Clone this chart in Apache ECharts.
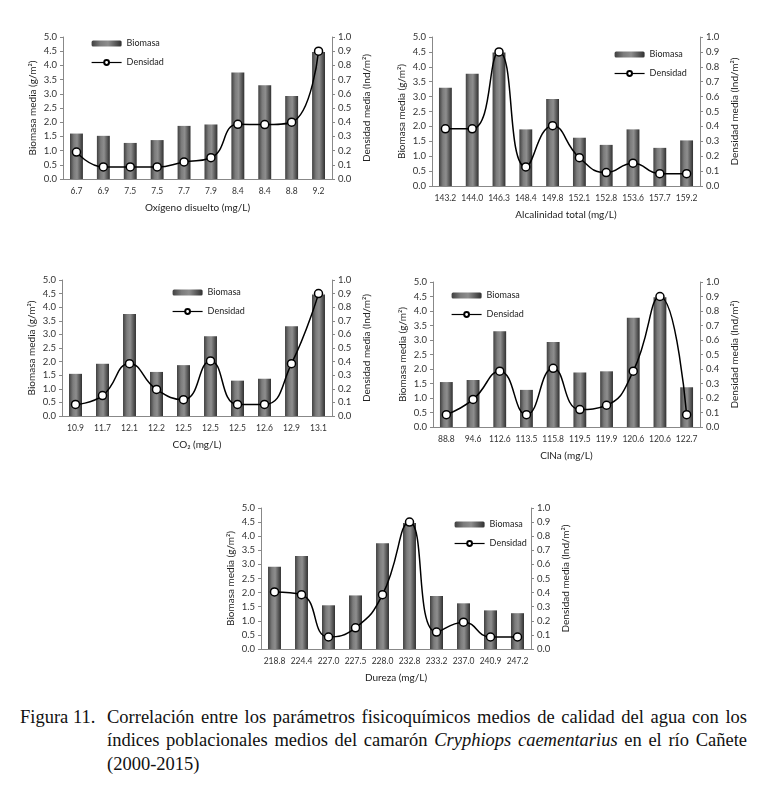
<!DOCTYPE html>
<html>
<head>
<meta charset="utf-8">
<script src="https://cdn.jsdelivr.net/npm/echarts@6/dist/echarts.min.js"></script>
<style>
html,body{margin:0;padding:0;background:#fff;}
#wrap{position:relative;width:757px;height:790px;overflow:hidden;}
#chart{position:absolute;left:0;top:0;width:757px;height:700px;}
.cap{position:absolute;font-family:"Liberation Serif","DejaVu Serif",serif;font-size:18.5px;color:#111;white-space:nowrap;}
.line{position:absolute;left:107px;width:640px;font-family:"Liberation Serif",serif;font-size:18.5px;color:#111;text-align:justify;text-align-last:justify;white-space:normal;}
</style>
</head>
<body>
<div id="wrap">
<div id="chart"></div>
<div class="cap" style="left:20px;top:707px;">Figura 11.</div>
<div class="line" style="top:707px;">Correlación entre los parámetros fisicoquímicos medios de calidad del agua con los</div>
<div class="line" style="top:730px;">índices poblacionales medios del camarón <i>Cryphiops caementarius</i> en el río Cañete</div>
<div class="cap" style="left:107px;top:754px;">(2000-2015)</div>
</div>
<script>
// ---- data ----
const oxCats = ['6.7','6.9','7.5','7.5','7.7','7.9','8.4','8.4','8.8','9.2'];
const oxBio  = [1.60,1.52,1.27,1.37,1.87,1.92,3.75,3.30,2.92,4.47];
const oxDen  = [0.19,0.085,0.085,0.085,0.12,0.15,0.385,0.383,0.40,0.90];

const alCats = ['143.2','144.0','146.3','148.4','149.8','152.1','152.8','153.6','157.7','159.2'];
const alBio  = [3.30,3.77,4.48,1.90,2.92,1.62,1.38,1.90,1.28,1.53];
const alDen  = [0.384,0.384,0.90,0.128,0.405,0.19,0.09,0.153,0.083,0.083];

const co2Cats = ['10.9','11.7','12.1','12.2','12.5','12.5','12.5','12.6','12.9','13.1'];
const co2Bio  = [1.55,1.92,3.75,1.62,1.87,2.93,1.30,1.37,3.30,4.47];
const co2Den  = [0.085,0.15,0.385,0.195,0.12,0.405,0.085,0.085,0.385,0.90];

const clCats = ['88.8','94.6','112.6','113.5','115.8','119.5','119.9','120.6','120.6','122.7'];
const clBio  = [1.55,1.62,3.30,1.28,2.93,1.88,1.92,3.77,4.47,1.37];
const clDen  = [0.085,0.19,0.385,0.085,0.405,0.12,0.15,0.385,0.90,0.085];

const duCats = ['218.8','224.4','227.0','227.5','228.0','232.8','233.2','237.0','240.9','247.2'];
const duBio  = [2.92,3.30,1.55,1.90,3.75,4.47,1.88,1.62,1.37,1.27];
const duDen  = [0.405,0.385,0.085,0.15,0.385,0.90,0.12,0.19,0.085,0.085];

const panels = [
  {cats:oxCats, bio:oxBio, den:oxDen, xname:'Oxígeno disuelto (mg/L)', grid:{left:63,top:37,width:269,height:142}, legend:{left:86,top:34}},
  {cats:alCats, bio:alBio, den:alDen, xname:'Alcalinidad total (mg/L)', grid:{left:432,top:37,width:268,height:149}, legend:{left:609,top:45}},
  {cats:co2Cats, bio:co2Bio, den:co2Den, xname:'CO₂ (mg/L)', grid:{left:62,top:280,width:270,height:136}, legend:{left:167,top:283}},
  {cats:clCats, bio:clBio, den:clDen, xname:'ClNa (mg/L)', grid:{left:433,top:282,width:267,height:145}, legend:{left:446,top:286}},
  {cats:duCats, bio:duBio, den:duDen, xname:'Dureza (mg/L)', grid:{left:261,top:508,width:270,height:141}, legend:{left:449,top:515}}
];

const FONT = 'Lato';
const barColor = new echarts.graphic.LinearGradient(0,0,1,0,[
  {offset:0,color:'#404040'},{offset:0.3,color:'#7c7c7c'},{offset:0.55,color:'#8e8e8e'},{offset:1,color:'#303030'}
]);

const option = {
  backgroundColor:'#fff',
  animation:false,
  grid:[], xAxis:[], yAxis:[], series:[], legend:[]
};

panels.forEach((p,i)=>{
  option.grid.push(Object.assign({containLabel:false}, p.grid));
  option.xAxis.push({
    type:'category', gridIndex:i, data:p.cats,
    name:p.xname, nameLocation:'middle', nameGap:24,
    nameTextStyle:{fontFamily:FONT,fontSize:10,color:'#222'},
    axisLine:{lineStyle:{color:'#888',width:1}},
    axisTick:{show:false},
    axisLabel:{fontFamily:FONT,fontSize:8.5,color:'#333',margin:8,interval:0}
  });
  option.yAxis.push({
    type:'value', gridIndex:i, min:0, max:5, interval:0.5, position:'left',
    name:'Biomasa media (g/m²)', nameLocation:'middle', nameRotate:90, nameGap:25,
    nameTextStyle:{fontFamily:FONT,fontSize:10,color:'#222'},
    axisLine:{show:true,lineStyle:{color:'#888'}},
    axisTick:{show:true,length:3,lineStyle:{color:'#888'}},
    splitLine:{show:false},
    axisLabel:{fontFamily:FONT,fontSize:9.5,color:'#333',margin:6,formatter:v=>v.toFixed(1)}
  });
  option.yAxis.push({
    type:'value', gridIndex:i, min:0, max:1, interval:0.1, position:'right',
    name:'Densidad media (Ind/m²)', nameLocation:'middle', nameRotate:90, nameGap:30,
    nameTextStyle:{fontFamily:FONT,fontSize:10,color:'#222'},
    axisLine:{show:true,lineStyle:{color:'#888'}},
    axisTick:{show:true,length:3,lineStyle:{color:'#888'}},
    splitLine:{show:false},
    axisLabel:{fontFamily:FONT,fontSize:9.5,color:'#333',margin:6,formatter:v=>v.toFixed(1)}
  });
  option.series.push({
    name:'Biomasa', type:'bar', xAxisIndex:i, yAxisIndex:2*i, data:p.bio,
    barWidth:'48%', itemStyle:{color:barColor}
  });
  option.series.push({
    name:'Densidad', type:'line', xAxisIndex:i, yAxisIndex:2*i+1, data:p.den,
    smooth:0.5, symbol:'circle', symbolSize:8,
    lineStyle:{color:'#000',width:1.5},
    itemStyle:{color:'#fff',borderColor:'#000',borderWidth:1.5}
  });
  option.legend.push({
    left:p.legend.left, top:p.legend.top, orient:'vertical',
    itemWidth:30, itemHeight:6, itemGap:10,
    data:['Biomasa','Densidad'],
    lineStyle:{width:1.2},
    textStyle:{fontFamily:FONT,fontSize:9,color:'#222'},
    selectedMode:false
  });
});

const chart = echarts.init(document.getElementById('chart'),null,{renderer:'canvas'});
chart.setOption(option);
</script>
</body>
</html>
